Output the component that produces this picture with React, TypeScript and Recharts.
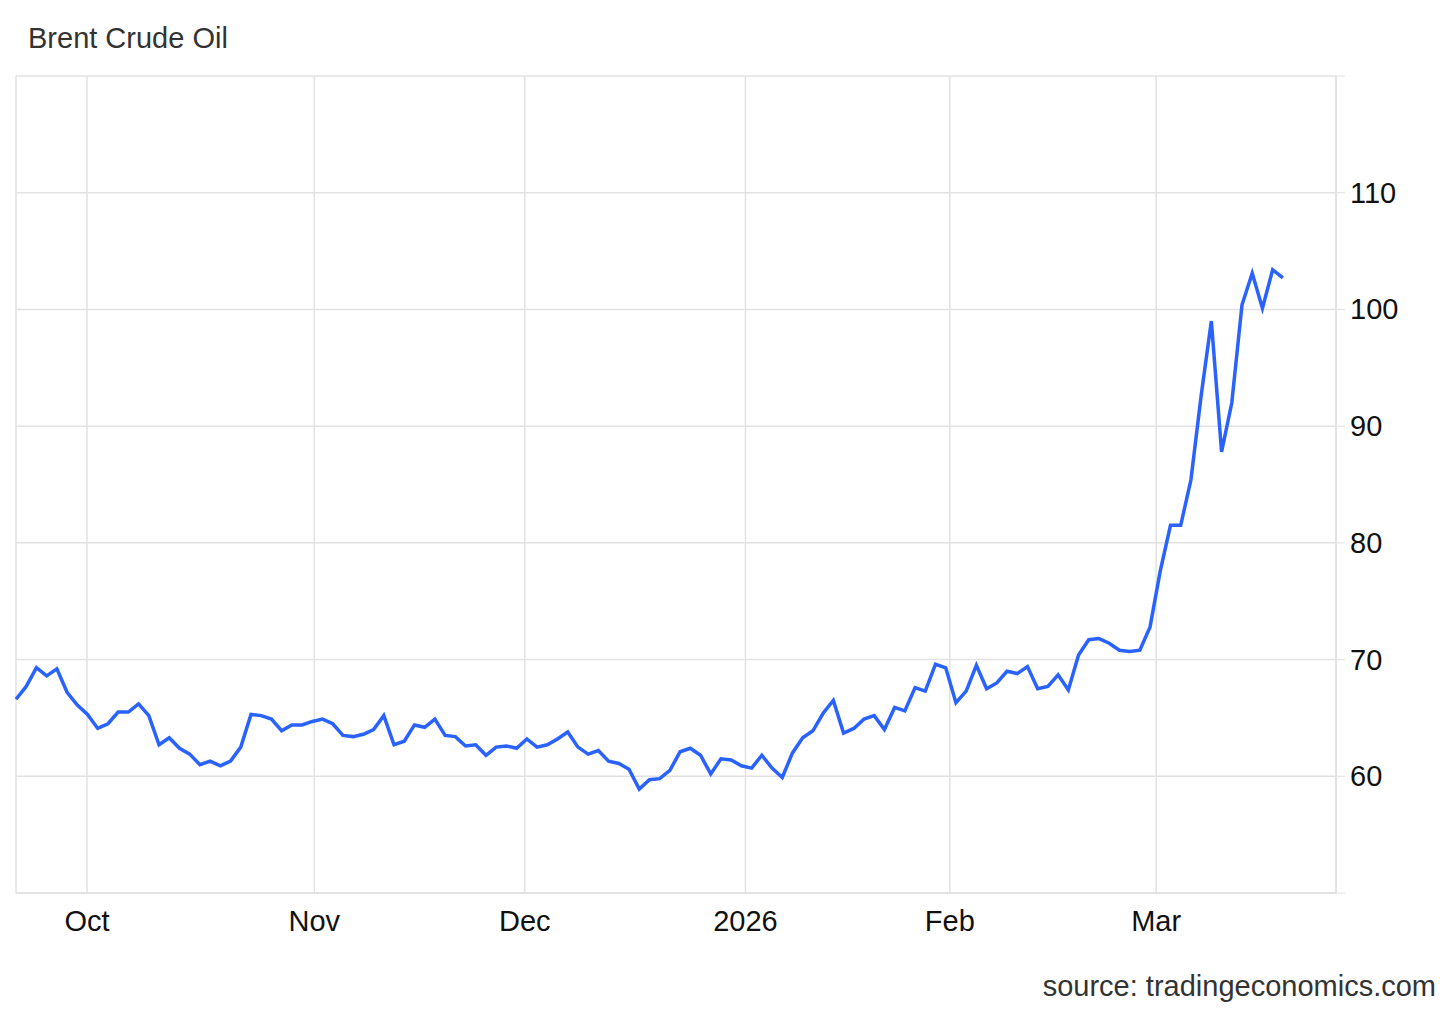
import { LineChart, Line, XAxis, YAxis, CartesianGrid } from "recharts";

// Brent daily closes, one per trading day (late Sep 2025 -> mid Mar 2026)
const prices = [
  66.6, 67.7, 69.3, 68.6, 69.2, 67.2, 66.1, 65.3, 64.1, 64.5,
  65.5, 65.5, 66.2, 65.2, 62.7, 63.3, 62.4, 61.9, 61.0, 61.3,
  60.9, 61.3, 62.5, 65.3, 65.2, 64.9, 63.9, 64.4, 64.4, 64.7,
  64.9, 64.5, 63.5, 63.4, 63.6, 64.0, 65.2, 62.7, 63.0, 64.4,
  64.2, 64.9, 63.5, 63.4, 62.6, 62.7, 61.8, 62.5, 62.6, 62.4,
  63.2, 62.5, 62.7, 63.2, 63.8, 62.5, 61.9, 62.2, 61.3, 61.1,
  60.6, 58.9, 59.7, 59.8, 60.5, 62.1, 62.4, 61.8, 60.2, 61.5,
  61.4, 60.9, 60.7, 61.8, 60.7, 59.9, 62.0, 63.3, 63.9, 65.4,
  66.5, 63.7, 64.1, 64.9, 65.2, 64.0, 65.9, 65.6, 67.6, 67.3,
  69.6, 69.3, 66.3, 67.3, 69.5, 67.5, 68.0, 69.0, 68.8, 69.4,
  67.5, 67.7, 68.7, 67.4, 70.4, 71.7, 71.8, 71.4, 70.8, 70.7,
  70.8, 72.8, 77.6, 81.5, 81.5, 85.4, 92.6, 99.0, 87.8, 92.0,
  100.4, 103.1, 100.1, 103.4, 102.7,
];

// month boundaries, in trading-day index units
const monthTicks = [6.95, 29.2, 49.8, 71.4, 91.4, 111.6];
const monthLabels = ["Oct", "Nov", "Dec", "2026", "Feb", "Mar"];

const priceTicks = [50, 60, 70, 80, 90, 100, 110, 120];
const shownPriceTicks = [60, 70, 80, 90, 100, 110];

const data = prices.map((p, i) => ({ i, price: p }));

const FONT = "'Liberation Sans', Arial, sans-serif";

function PriceTick(props: any) {
  const { x, y, payload } = props;
  if (!shownPriceTicks.includes(payload.value)) return null;
  return (
    <text x={x} y={y} dy={10} textAnchor="start" fill="#111" fontSize={29} fontFamily={FONT}>
      {payload.value}
    </text>
  );
}

export default function App() {
  return (
    <div
      style={{
        position: "absolute",
        left: 0,
        top: 0,
        width: 1456,
        height: 1009,
        background: "#fff",
        fontFamily: FONT,
      }}
    >
      <div style={{ position: "absolute", left: 28, top: 22, fontSize: 29, color: "#333" }}>
        Brent Crude Oil
      </div>
      <LineChart
        width={1456}
        height={1009}
        data={data}
        margin={{ top: 76, right: 40, bottom: 56, left: 16 }}
      >
        <CartesianGrid stroke="#e2e2e2" strokeWidth={1.5} verticalStroke="#eceff2" vertical horizontal />
        <XAxis
          dataKey="i"
          type="number"
          domain={[0, 129.2]}
          ticks={monthTicks}
          tickFormatter={(v: number) => monthLabels[monthTicks.indexOf(v)]}
          interval={0}
          stroke="#dcdcdc"
          tickLine={false}
          tickMargin={11}
          tick={{ fill: "#111", fontSize: 29, fontFamily: FONT }}
          height={60}
        />
        <YAxis
          orientation="right"
          type="number"
          domain={[50, 120]}
          ticks={priceTicks}
          interval={0}
          stroke="#dcdcdc"
          tickSize={9}
          tickLine={{ stroke: "#e2e2e2" }}
          tickMargin={5}
          tick={<PriceTick />}
          width={80}
        />
        <Line
          type="linear"
          dataKey="price"
          stroke="#2962ff"
          strokeWidth={3.5}
          dot={false}
          isAnimationActive={false}
        />
      </LineChart>
      <div style={{ position: "absolute", right: 20, top: 970, fontSize: 29, color: "#333" }}>
        source: tradingeconomics.com
      </div>
    </div>
  );
}
